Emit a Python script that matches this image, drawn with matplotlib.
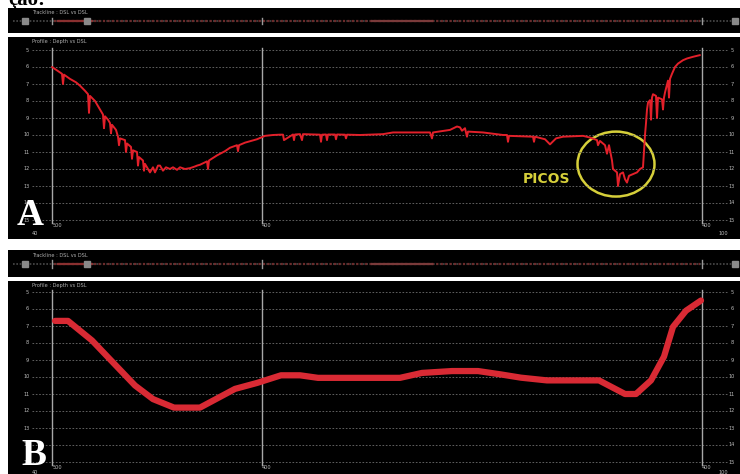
import matplotlib
matplotlib.use('Agg')
import matplotlib.pyplot as plt
from matplotlib.patches import Ellipse
import numpy as np

# Profile A (raw, with spikes): distance along track vs depth
dist_a = [0, 5, 10, 11, 12, 18, 24, 28, 33, 36, 37, 38, 43, 48, 51, 52, 53, 56, 58, 59, 60,
          64, 66, 67, 68, 73, 74, 75, 79, 80, 81, 85, 86, 87, 91, 92, 93, 98, 101, 103, 106,
          108, 111, 114, 118, 121, 125, 128, 133, 138, 143, 145, 148, 155, 156, 157, 165, 173,
          178, 185, 186, 187, 193, 205, 213, 221, 228, 231, 232, 241, 242, 243, 248, 250, 251,
          268, 269, 270, 274, 275, 276, 283, 284, 285, 293, 294, 295, 308, 331, 341, 378, 380,
          381, 398, 405, 408, 410, 413, 415, 416, 431, 451, 455, 456, 457, 481, 482, 483, 493,
          498, 504, 511, 531, 538, 545, 546, 548, 553, 555, 557, 560, 561, 563, 565, 566, 568,
          571, 573, 575, 577, 581, 585, 588, 591, 593, 594, 595, 596, 598, 599, 600, 601, 604,
          605, 606, 610, 611, 612, 613, 616, 617, 618, 620, 623, 626, 631, 635, 641, 648]
depth_a = [6.0, 6.2, 6.4, 7.0, 6.45, 6.7, 6.9, 7.1, 7.4, 7.6, 8.7, 7.7, 8.0, 8.5, 8.8, 9.6,
           8.9, 9.1, 9.3, 9.9, 9.4, 9.7, 10.1, 10.6, 10.2, 10.3, 11.0, 10.5, 10.7, 11.4, 10.9,
           11.0, 11.8, 11.3, 11.5, 12.1, 11.7, 12.2, 11.9, 12.2, 11.8, 11.8, 12.1, 11.9, 12.0,
           11.9, 12.05, 11.9, 12.0, 11.95, 11.85, 11.8, 11.75, 11.55, 12.0, 11.5, 11.2, 10.95,
           10.75, 10.6, 10.95, 10.6, 10.45, 10.25, 10.05, 10.0, 9.98, 9.98, 10.3, 9.97, 10.3,
           9.97, 9.95, 10.3, 9.95, 9.98, 10.4, 9.98, 9.97, 10.3, 9.97, 9.97, 10.25, 9.97, 9.98,
           10.2, 9.98, 10.0, 9.95, 9.85, 9.85, 10.2, 9.85, 9.7, 9.5, 9.55, 9.75, 9.6, 10.1,
           9.8, 9.85, 10.0, 10.0, 10.4, 10.05, 10.1, 10.4, 10.1, 10.25, 10.55, 10.2, 10.1,
           10.05, 10.15, 10.3, 10.6, 10.35, 10.6, 11.1, 10.6, 11.5, 12.0, 12.1, 12.2, 13.0,
           12.3, 12.2, 12.6, 12.8, 12.4, 12.3, 12.2, 12.0, 11.9, 10.0, 9.3, 8.5, 8.1, 7.95,
           9.1, 7.8, 7.6, 7.7, 9.0, 7.8, 7.9, 8.5, 7.8, 7.5, 6.8, 7.8, 6.7, 6.4, 6.0, 5.8,
           5.6, 5.5, 5.4, 5.3]

# Profile B (filtered)
dist_b = [3, 16, 40, 57, 83, 101, 122, 148, 183, 205, 229, 248, 266, 292, 348, 370, 400,
          426, 448, 469, 495, 547, 560, 573, 584, 599, 612, 621, 634, 649]
depth_b = [6.7, 6.7, 7.85, 8.9, 10.5, 11.3, 11.8, 11.8, 10.7, 10.35, 9.9, 9.9, 10.05, 10.05,
           10.05, 9.76, 9.65, 9.65, 9.84, 10.04, 10.2, 10.2, 10.6, 11.0, 11.0, 10.2, 8.8,
           7.05, 6.1, 5.5]

depth_ticks = list(range(5, 16))
vline_dist = [0, 210, 650]
vline_labels = ['500', '400', '400']

W, H = 740, 474
fig = plt.figure(figsize=(W / 100, H / 100), dpi=100, facecolor='white')


def px_axes(x0, y0, x1, y1):
    ax = fig.add_axes([x0 / W, 1 - y1 / H, (x1 - x0) / W, (y1 - y0) / H])
    ax.set_facecolor('black')
    ax.set_xticks([])
    ax.set_yticks([])
    for s in ax.spines.values():
        s.set_visible(False)
    return ax


def trackline(y0, y1):
    ax = px_axes(8, y0, 740, y1)
    ax.set_xlim(-44, 688)
    ax.set_ylim(0, 1)
    ax.plot([-39, 683], [0.48, 0.48], color='#4a4a4a', lw=1.2, ls=(0, (1, 1)))
    ax.plot([2, 648], [0.48, 0.48], color='#6b2b2b', lw=1.6, ls=(0, (1, 1)))
    ax.plot([6, 40], [0.48, 0.48], color='#8a3030', lw=1.6)
    ax.plot([320, 380], [0.48, 0.48], color='#7a3a3a', lw=1.6)
    for d in vline_dist:
        ax.plot([d, d], [0.35, 0.62], color='#9a9a9a', lw=1)
    ax.plot([-27, 35, 683], [0.48, 0.48, 0.48], ls='none', marker='s', ms=4,
            color='#8a8a8a')
    ax.text(-20, 0.8, 'Trackline : DSL vs DSL', color='#b0b0b0', fontsize=3.6,
            va='center', ha='left')
    return ax


def profile(y0, y1, top_px, xs, ys, lw, color, foot):
    ax = px_axes(8, y0, 740, y1)
    ax.set_xlim(-44, 688)
    # 17 px per metre of depth, depth 5 at top_px
    ax.set_ylim(5 + (y1 - top_px) / 17, 5 + (y0 - top_px) / 17)
    for d in depth_ticks:
        ax.plot([-20, 675], [d, d], color='#6e6e6e', lw=0.6, ls=(0, (2, 2)))
        ax.text(-25, d, str(d), color='#bdbdbd', fontsize=3.6, ha='center', va='center')
        ax.text(680, d, str(d), color='#bdbdbd', fontsize=3.6, ha='center', va='center')
    for d, lab in zip(vline_dist, vline_labels):
        ax.plot([d, d], [4.9, 15.15], color='#a8a8a8', lw=1)
        ax.text(d + 5, 15.3, lab, color='#bdbdbd', fontsize=3.6, ha='center', va='center')
    ax.text(-17, foot, '40', color='#bdbdbd', fontsize=3.6, ha='center', va='center')
    ax.text(671, foot, '100', color='#bdbdbd', fontsize=3.6, ha='center', va='center')
    ax.text(-20, 5 + (y0 + 4 - top_px) / 17, 'Profile : Depth vs DSL', color='#b0b0b0',
            fontsize=3.6, va='center', ha='left')
    ax.plot(xs, ys, color=color, lw=lw, solid_joinstyle='round', solid_capstyle='round')
    return ax


fig.text(8 / W, 1 - 5 / H, 'ção:', fontsize=15, family='Liberation Serif',
         weight='bold', va='baseline', ha='left')

# panel A
trackline(8, 33)
axA = profile(37, 239, 50, dist_a, depth_a, 1.4, '#e3202a', 15.78)
axA.add_patch(Ellipse((564, 11.71), 77, 3.82, fill=False, ec='#d6cf3a', lw=1.8))
axA.text(494, 12.6, 'PICOS', color='#d6cf3a', fontsize=10, weight='bold',
         ha='center', va='center')
axA.text(-35, 15.29, 'A', color='white', fontsize=27, family='Liberation Serif',
         weight='bold', ha='left', va='baseline')

# panel B
trackline(250, 277)
axB = profile(281, 474, 292, dist_b, depth_b, 4.5, '#d92a34', 15.6)
axB.text(-31, 15.18, 'B', color='white', fontsize=27, family='Liberation Serif',
         weight='bold', ha='left', va='baseline')

fig.savefig('out.png', dpi=100, facecolor='white')
